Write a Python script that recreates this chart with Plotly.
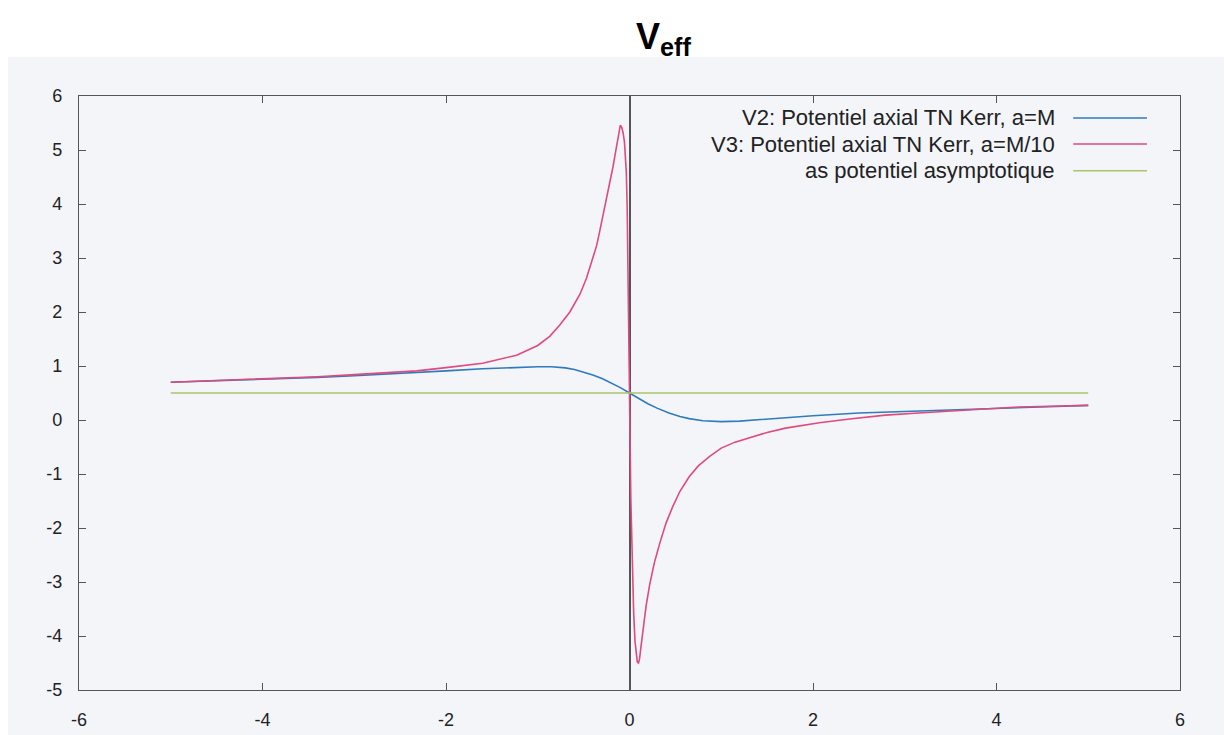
import plotly.graph_objects as go

# ---- data ----
v2_x = [-5.0, -4.0, -3.4, -3.0, -2.5, -2.0, -1.6, -1.3, -1.0, -0.85, -0.7, -0.6, -0.5, -0.4,
        -0.3, -0.2, -0.1, 0.0, 0.1, 0.2, 0.3, 0.43, 0.55, 0.65, 0.8, 1.0, 1.2, 1.5, 2.0,
        2.5, 3.0, 3.5, 4.0, 4.5, 5.0]
v2_y = [0.70, 0.75, 0.79, 0.82, 0.86, 0.91, 0.95, 0.97, 0.985, 0.985, 0.965, 0.935, 0.89, 0.835,
        0.77, 0.69, 0.60, 0.50, 0.40, 0.30, 0.22, 0.13, 0.065, 0.025, -0.015, -0.03, -0.02, 0.02, 0.08,
        0.13, 0.16, 0.19, 0.22, 0.25, 0.27]

v3_x = [-5.0, -4.0, -3.4, -3.0, -2.32, -2.0, -1.6, -1.23, -1.0, -0.87, -0.76, -0.65, -0.54, -0.47,
        -0.4, -0.36, -0.33, -0.29, -0.25, -0.22, -0.18, -0.15, -0.13, -0.115, -0.10, -0.085, -0.07, -0.055,
        -0.045, -0.035, -0.025, -0.015, -0.008, 0.0, 0.008, 0.015, 0.03, 0.045, 0.06, 0.073,
        0.085, 0.098, 0.11, 0.125, 0.145, 0.18, 0.22, 0.27, 0.33, 0.4, 0.47, 0.55, 0.65, 0.75,
        0.87, 1.0, 1.15, 1.34, 1.5, 1.7, 2.07, 2.4, 2.79, 3.15, 3.51, 3.9, 4.24, 4.6, 5.0]
v3_y = [0.70, 0.76, 0.80, 0.84, 0.91, 0.97, 1.05, 1.20, 1.38, 1.55, 1.76, 2.0, 2.33, 2.62,
        3.0, 3.22, 3.45, 3.77, 4.08, 4.35, 4.69, 4.98, 5.2, 5.36, 5.46, 5.42, 5.32, 5.15,
        4.95, 4.6, 3.9, 2.8, 1.7, 0.5, -0.6, -1.5, -2.7, -3.55, -4.1, -4.38,
        -4.48, -4.5, -4.42, -4.2, -3.89, -3.45, -3.05, -2.65, -2.28, -1.9, -1.61, -1.32, -1.05, -0.85,
        -0.68, -0.52, -0.41, -0.31, -0.23, -0.15, -0.05, 0.02, 0.09, 0.13, 0.17, 0.21, 0.24, 0.255, 0.27]

asym_x = [-5.0, 5.0]
asym_y = [0.5, 0.5]

names = ["V2: Potentiel axial TN Kerr, a=M",
         "V3: Potentiel axial TN Kerr, a=M/10",
         "as potentiel asymptotique"]
colors = ["#2f7bbd", "#e04a7c", "#a9c46a"]

x_ticks = [-6, -4, -2, 0, 2, 4, 6]
y_ticks = [-5, -4, -3, -2, -1, 0, 1, 2, 3, 4, 5, 6]

FONT = "Liberation Sans, Arial, sans-serif"
TINT = "#f3f5f9"
FRAME = "#555555"

fig = go.Figure()
fig.add_trace(go.Scatter(x=v2_x, y=v2_y, mode="lines", name=names[0],
                         line=dict(color=colors[0], width=1.6), showlegend=False))
fig.add_trace(go.Scatter(x=v3_x, y=v3_y, mode="lines", name=names[1],
                         line=dict(color=colors[1], width=1.6), showlegend=False))
fig.add_trace(go.Scatter(x=asym_x, y=asym_y, mode="lines", name=names[2],
                         line=dict(color=colors[2], width=1.5), showlegend=False))

# background tint of the scan (below the white title strip)
fig.add_shape(type="rect", xref="paper", yref="paper",
              x0=-0.09, x1=1.06, y0=-0.1, y1=1.066,
              fillcolor=TINT, line=dict(width=0), layer="below")

# legend drawn gnuplot-style: text right-aligned, sample line on the right
row_y = [0.963, 0.919, 0.874]
for name, col, ry in zip(names, colors, row_y):
    fig.add_annotation(x=0.888, y=ry, xref="paper", yref="paper", text=name,
                       showarrow=False, xanchor="right", yanchor="middle",
                       font=dict(family=FONT, size=22, color="#222222"))
    fig.add_shape(type="line", xref="paper", yref="paper",
                  x0=0.903, x1=0.970, y0=ry, y1=ry,
                  line=dict(color=col, width=1.5))

fig.update_layout(
    width=1232, height=735,
    margin=dict(l=71, r=60, t=88, b=53),
    paper_bgcolor="white",
    plot_bgcolor="rgba(0,0,0,0)",
    title=dict(text="<b>V<sub>eff</sub></b>", x=0.532, xanchor="center",
               y=0.962, yanchor="middle",
               font=dict(family=FONT, size=36, color="#000000")),
    font=dict(family=FONT, size=18, color="#222222"),
    showlegend=False,
)
fig.update_xaxes(range=[-6, 6], tickvals=x_ticks, ticktext=[str(v) for v in x_ticks],
                 showgrid=False, zeroline=True, zerolinecolor=FRAME, zerolinewidth=2,
                 showline=True, linecolor=FRAME, linewidth=1.2, mirror="ticks",
                 ticks="inside", ticklen=7, tickcolor=FRAME, ticklabelstandoff=13,
                 tickfont=dict(family=FONT, size=18, color="#222222"))
fig.update_yaxes(range=[-5, 6], tickvals=y_ticks, ticktext=[str(v) for v in y_ticks],
                 showgrid=False, zeroline=False,
                 showline=True, linecolor=FRAME, linewidth=1.2, mirror="ticks",
                 ticks="inside", ticklen=7, tickcolor=FRAME, ticklabelstandoff=12,
                 tickfont=dict(family=FONT, size=18, color="#222222"))

fig.write_html("out.html")
